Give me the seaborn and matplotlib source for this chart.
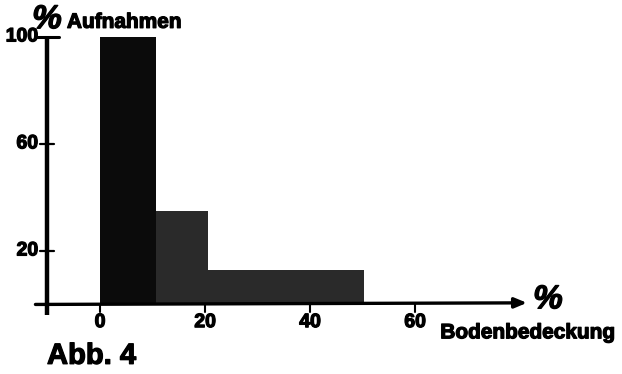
import numpy as np
import matplotlib
matplotlib.use("Agg")
import matplotlib.pyplot as plt
import matplotlib.patheffects as pe
import seaborn as sns

# histogram classes (% ground cover) and share of releves (%)
bin_edges = [0, 10.7, 20.5, 50.3]
pct_releves = [100, 35, 13]
y_ticks = [20, 60, 100]
x_ticks = [0, 20, 40, 60]
bar_colors = ["#0b0b0b", "#2a2a2a", "#2a2a2a"]

sns.set_theme(style="white")
plt.rcParams['font.family'] = ['Liberation Sans', 'DejaVu Sans']

# a bit heavier lettering, like the printed figure
heavy = [pe.withStroke(linewidth=0.9, foreground="black")]

fig = plt.figure(figsize=(6.22, 3.74), dpi=100)
ax = fig.add_axes([0, 0, 1, 1])

mids = [(a + b) / 2 for a, b in zip(bin_edges[:-1], bin_edges[1:])]
sns.histplot(x=mids, weights=pct_releves, bins=bin_edges, ax=ax,
             stat="count", fill=True, linewidth=0, color="#222222")
for p, c in zip(ax.patches, bar_colors):
    p.set_facecolor(c)
    p.set_edgecolor(c)
    p.set_alpha(1)

# map the data area onto the page like the scanned figure
ax.set_xlim(-19.05, 99.4)
ax.set_ylim(-26.0, 113.8)
ax.axis("off")

# axes drawn by hand
ax.plot([-10.1, -10.1], [-4.0, 100], color="black", lw=3.2, solid_capstyle="butt", zorder=3)
ax.plot([-12.3, -7.9], [100, 100], color="black", lw=2.2, zorder=3)
ax.annotate("", xy=(81.3, 0.6), xytext=(-12.3, 0),
            arrowprops=dict(arrowstyle="-|>,head_length=0.6,head_width=0.25",
                            color="black", lw=2.4, shrinkA=0, shrinkB=0), zorder=4)

for yt in y_ticks[:-1]:
    ax.plot([-11.4, -8.8], [yt, yt], color="black", lw=1.6, zorder=3)
for yt in y_ticks:
    ax.text(-11.8, yt, str(yt), ha="right", va="center", fontsize=14,
            fontweight="bold", color="black", path_effects=heavy)

for xt in x_ticks:
    ax.plot([xt, xt], [0, -3.0], color="black", lw=1.5, zorder=3)
    ax.text(xt, -6.8, str(xt), ha="center", va="center", fontsize=14,
            fontweight="bold", color="black", path_effects=heavy)

ax.text(-10.1, 106.4, "%", fontsize=24, fontweight="bold", style="italic",
        ha="center", va="center", color="black", path_effects=heavy)
ax.text(-6.3, 103.4, "Aufnahmen", fontsize=15, fontweight="bold",
        ha="left", va="baseline", color="black", path_effects=heavy)
ax.text(85.3, 1.7, "%", fontsize=24, fontweight="bold", style="italic",
        ha="center", va="center", color="black", path_effects=heavy)
ax.text(64.8, -10.6, "Bodenbedeckung", fontsize=15, fontweight="bold",
        ha="left", va="center", color="black", path_effects=heavy)
ax.text(-10.1, -19.2, "Abb. 4", fontsize=21, fontweight="bold",
        ha="left", va="center", color="black", path_effects=heavy)

fig.savefig("out.png", dpi=100)
